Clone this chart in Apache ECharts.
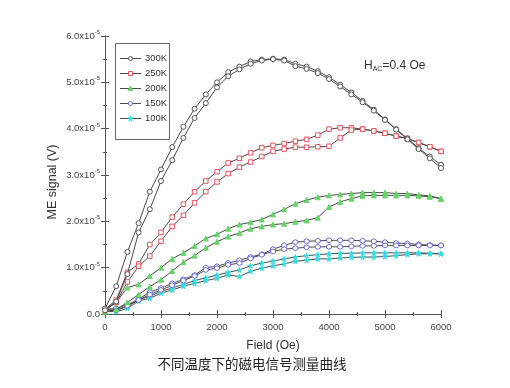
<!DOCTYPE html>
<html><head><meta charset="utf-8">
<script src="https://cdn.jsdelivr.net/npm/echarts@6/dist/echarts.min.js"></script>
<style>html,body{margin:0;padding:0;background:#fff}#c{width:510px;height:388px}</style>
</head><body><div id="c"></div>
<script>
const fields = [0,200,400,600,800,1000,1200,1400,1600,1800,2000,2200,2400,2600,2800,3000,3200,3400,3600,3800,4000,4200,4400,4600,4800,5000,5200,5400,5600,5800,6000];
const temps = ['300K','250K','200K','150K','100K'];
const yTicks = [0,1,2,3,4,5,6];
const xTicks = [0,1000,2000,3000,4000,5000,6000];
// values in units of 1e-5 V
const s300up = [0.12,0.6,1.34,1.96,2.64,3.12,3.6,4.04,4.43,4.74,5.0,5.22,5.34,5.45,5.49,5.51,5.49,5.40,5.34,5.24,5.11,4.95,4.78,4.60,4.41,4.20,3.99,3.79,3.58,3.40,3.22];
const s300dn = [0.08,0.27,0.86,1.76,2.26,2.87,3.32,3.80,4.23,4.55,4.89,5.13,5.28,5.40,5.47,5.50,5.47,5.35,5.29,5.20,5.07,4.91,4.74,4.57,4.39,4.19,3.98,3.77,3.56,3.36,3.15];
const s250up = [0.1,0.3,0.9,1.08,1.5,1.76,2.09,2.37,2.64,2.87,3.07,3.26,3.36,3.48,3.59,3.64,3.68,3.73,3.77,3.86,3.99,4.02,4.02,3.99,3.95,3.90,3.84,3.79,3.70,3.61,3.51];
const s250dn = [0.08,0.25,0.69,1.03,1.25,1.57,1.89,2.13,2.40,2.64,2.85,3.03,3.17,3.28,3.40,3.51,3.56,3.60,3.60,3.61,3.62,3.80,3.97,3.99,3.95,3.90,3.84,3.78,3.70,3.61,3.51];
const s200up = [0.1,0.25,0.57,0.64,0.82,1.0,1.19,1.32,1.47,1.63,1.72,1.84,1.93,1.98,2.04,2.15,2.26,2.38,2.46,2.52,2.56,2.58,2.60,2.62,2.62,2.62,2.60,2.60,2.57,2.55,2.49];
const s200dn = [0.05,0.1,0.25,0.42,0.59,0.74,0.93,1.12,1.26,1.43,1.56,1.67,1.75,1.84,1.89,1.93,1.95,1.99,2.02,2.08,2.31,2.42,2.49,2.55,2.56,2.56,2.56,2.56,2.55,2.53,2.49];
const s150up = [0.1,0.12,0.2,0.32,0.47,0.56,0.66,0.75,0.84,1.0,1.03,1.10,1.16,1.23,1.29,1.40,1.48,1.55,1.57,1.58,1.59,1.59,1.59,1.58,1.57,1.55,1.53,1.52,1.50,1.49,1.48];
const s150dn = [0.08,0.08,0.18,0.30,0.42,0.52,0.62,0.72,0.82,0.95,0.99,1.06,1.10,1.20,1.28,1.35,1.40,1.42,1.44,1.45,1.45,1.45,1.46,1.47,1.47,1.48,1.48,1.48,1.48,1.48,1.48];
const s100up = [0.1,0.08,0.16,0.31,0.38,0.49,0.56,0.64,0.72,0.78,0.84,0.90,0.95,1.04,1.10,1.14,1.19,1.23,1.26,1.28,1.30,1.31,1.31,1.32,1.32,1.32,1.32,1.32,1.32,1.31,1.30];
const s100dn = [0.06,0.05,0.12,0.28,0.34,0.45,0.52,0.60,0.66,0.72,0.77,0.84,0.81,0.92,0.99,1.04,1.08,1.14,1.16,1.19,1.19,1.21,1.22,1.23,1.23,1.24,1.26,1.28,1.30,1.30,1.30];

const branches = [[s300up,s300dn],[s250up,s250dn],[s200up,s200dn],[s150up,s150dn],[s100up,s100dn]];
const markerColors = ['#555555','#e8545c','#66d466','#6a6ad8','#33dde6'];
const hex = 'path://M50,0 L93,25 L93,75 L50,100 L7,75 L7,25 Z';
const star = 'path://M50,0 L62,38 L100,38 L69,61 L81,100 L50,76 L19,100 L31,61 L0,38 L38,38 Z';
const symbols = ['circle','rect','triangle',hex,star];
const filled = [false,false,true,false,true];

const series = [];
temps.forEach((t,i)=>{
  branches[i].forEach(arr=>{
    series.push({
      name:t, type:'line', data: fields.map((f,k)=>[f,arr[k]]),
      symbol: symbols[i], symbolSize: i===1?4.5:5, showSymbol:true,
      lineStyle:{color:'#4a4a4a', width:1},
      itemStyle:{color: filled[i]?markerColors[i]:'#ffffff', borderColor: markerColors[i], borderWidth:1},
      emphasis:{disabled:true}, animation:false, z: 10-i
    });
  });
});

// legend drawn as graphic elements
function poly(cx, cy, r, pts){ return pts.map(p=>[cx+p[0]*r, cy+p[1]*r]); }
function legendSymbol(i, cx, cy){
  const st = {fill: filled[i]?markerColors[i]:'#fff', stroke: markerColors[i], lineWidth:1};
  if(i===0) return {type:'circle', shape:{cx, cy, r:2}, style:st, z:101};
  if(i===1) return {type:'rect', shape:{x:cx-2, y:cy-2, width:4, height:4}, style:st, z:101};
  if(i===2) return {type:'polygon', shape:{points:poly(cx,cy,2.4,[[0,-1],[1,0.8],[-1,0.8]])}, style:st, z:101};
  if(i===3) return {type:'polygon', shape:{points:poly(cx,cy,2.2,[[0,-1],[0.87,-0.5],[0.87,0.5],[0,1],[-0.87,0.5],[-0.87,-0.5]])}, style:st, z:101};
  return {type:'polygon', shape:{points:poly(cx,cy,2.6,[[0,-1],[0.24,-0.3],[1,-0.3],[0.38,0.2],[0.62,1],[0,0.5],[-0.62,1],[-0.38,0.2],[-1,-0.3],[-0.24,-0.3]])}, style:st, z:101};
}
const legendEls = [{type:'rect', shape:{x:115.5, y:43.5, width:54, height:96}, style:{fill:'#fff', stroke:'#666', lineWidth:1}, z:100}];
temps.forEach((t,i)=>{
  const cy = 58.5 + 15*i;
  legendEls.push({type:'line', shape:{x1:120, y1:cy, x2:141, y2:cy}, style:{stroke:'#4a4a4a', lineWidth:1}, z:101});
  legendEls.push(legendSymbol(i, 130.5, cy));
  legendEls.push({type:'text', x:145, y:cy, style:{text:t, fontSize:9.5, fill:'#333', fontFamily:'Liberation Sans', verticalAlign:'middle'}, z:101});
});

const axisCommon = {
  axisLine:{show:true, lineStyle:{color:'#555', width:1}},
  axisTick:{show:true, inside:true, length:4, lineStyle:{color:'#555'}},
  minorTick:{show:true, splitNumber:2, length:2, lineStyle:{color:'#555'}},
  splitLine:{show:false}
};

const chart = echarts.init(document.getElementById('c'), null, {renderer:'canvas'});
chart.setOption({
  backgroundColor:'#fff',
  animation:false,
  grid:{left:105, right:69, top:36, bottom:74},
  xAxis:[
    Object.assign({type:'value', min:0, max:6000, interval:1000, position:'bottom',
      name:'Field (Oe)', nameLocation:'middle', nameGap:26,
      nameTextStyle:{fontSize:12, color:'#333', fontFamily:'Liberation Sans'},
      axisLabel:{fontSize:9.5, color:'#444', margin:8, fontFamily:'Liberation Sans', formatter: v => String(v)}}, axisCommon),
    Object.assign({type:'value', min:0, max:6000, interval:1000, position:'top', axisLabel:{show:false}}, axisCommon)
  ],
  yAxis:[
    Object.assign({type:'value', min:0, max:6, interval:1, position:'left',
      axisLabel:{margin:5, color:'#444', fontSize:9.5, fontFamily:'Liberation Sans',
        formatter: v => v===0 ? '0.0' : '{a|'+v.toFixed(1)+'x10}{s|-5}',
        rich:{a:{fontSize:9.5, color:'#444', fontFamily:'Liberation Sans'}, s:{fontSize:6, color:'#444', padding:[0,0,7,0], fontFamily:'Liberation Sans'}}}}, axisCommon),
    Object.assign({type:'value', min:0, max:6, interval:1, position:'right', axisLabel:{show:false}}, axisCommon)
  ],
  graphic: legendEls.concat([
    {type:'text', x:53, y:182, rotation:Math.PI/2, style:{text:'ME signal (V)', fontSize:12.5, fill:'#333', fontFamily:'Liberation Sans', align:'center', verticalAlign:'middle'}},
    {type:'text', x:364, y:59, style:{text:'{a|H}{b|AC}{a|=0.4 Oe}', rich:{a:{fontSize:12, fill:'#333', fontFamily:'Liberation Sans'}, b:{fontSize:7, fill:'#333', padding:[7,0,0,0], fontFamily:'Liberation Sans'}}}},
    {type:'text', x:252, y:364, style:{text:'不同温度下的磁电信号测量曲线', fontSize:13.5, fill:'#222', fontFamily:'Noto Sans CJK SC', align:'center', verticalAlign:'middle'}}
  ]),
  series: series
});
</script></body></html>
